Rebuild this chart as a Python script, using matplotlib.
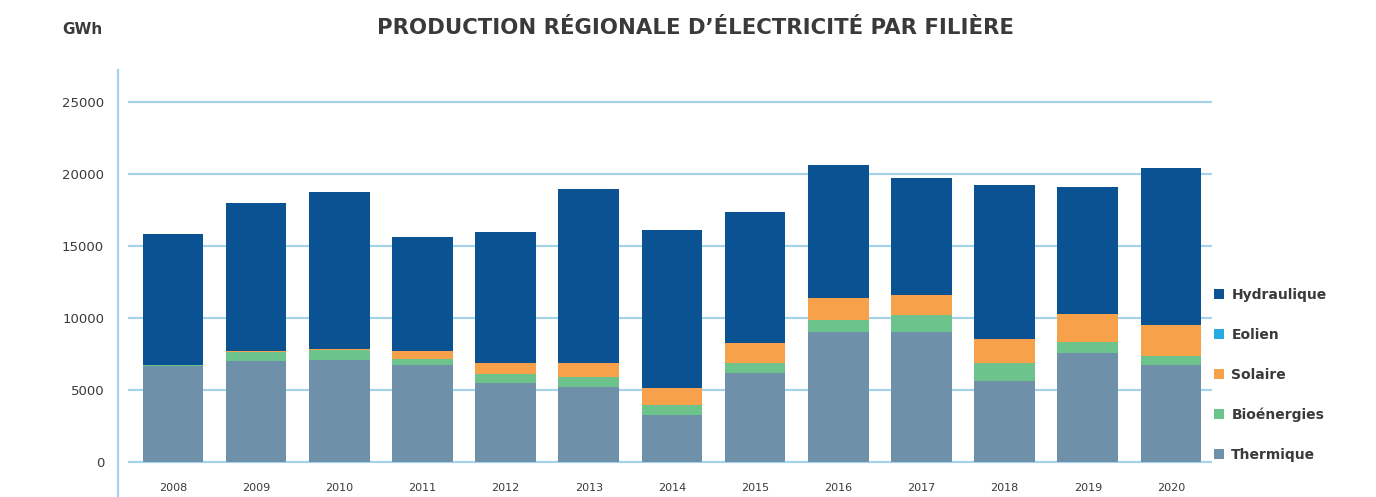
#!/usr/bin/env python3
"""Production régionale d'électricité par filière, 2008-2020 (GWh), stacked bars."""

import matplotlib
matplotlib.use("Agg")
import matplotlib.pyplot as plt
import numpy as np

plt.rcParams.update({
    "font.family": ["DejaVu Sans"],
    "figure.dpi": 100,
})

# ── data (GWh) ──────────────────────────────────────────────────────────────
years = ["2008", "2009", "2010", "2011", "2012", "2013", "2014",
         "2015", "2016", "2017", "2018", "2019", "2020"]
thermique   = [6650, 7000, 7080, 6740, 5460, 5190, 3260, 6200, 9050, 9050, 5650, 7550, 6740]
bioenergies = [100, 660, 700, 390, 650, 740, 700, 700, 810, 1160, 1200, 810, 620]
solaire     = [0, 50, 44, 600, 790, 970, 1160, 1390, 1500, 1390, 1670, 1920, 2150]
eolien      = [0, 0, 0, 5, 5, 5, 5, 5, 10, 10, 10, 10, 10]
hydraulique = [9060, 10255, 10950, 7870, 9100, 12040, 11000, 9100, 9260, 8080, 10720, 8840, 10930]

y_ticks = [0, 5000, 10000, 15000, 20000, 25000]

# ── colours ─────────────────────────────────────────────────────────────────
COLOR_THERM = "#6e90a8"
COLOR_BIO   = "#6cc48c"
COLOR_SOL   = "#f7a24b"
COLOR_EOL   = "#29abe2"
COLOR_HYD   = "#0a5291"
COLOR_GRID  = "#a7d3ea"
COLOR_TEXT  = "#3a3a3a"

fig = plt.figure(figsize=(13.76, 4.97), dpi=100)
ax = fig.add_axes([118 / 1376, 0.0, (1215 - 118) / 1376, (497 - 70) / 497])

x = np.arange(len(years))
width = 0.73

series = [
    ("Thermique", thermique, COLOR_THERM),
    ("Bioénergies", bioenergies, COLOR_BIO),
    ("Solaire", solaire, COLOR_SOL),
    ("Eolien", eolien, COLOR_EOL),
    ("Hydraulique", hydraulique, COLOR_HYD),
]

bottom = np.zeros(len(years))
handles = []
for label, vals, color in series:
    vals = np.asarray(vals, dtype=float)
    h = ax.bar(x, vals, width, bottom=bottom, color=color, label=label,
               zorder=3, linewidth=0)
    handles.append(h)
    bottom += vals

# grid lines (slightly inset from the left axis line)
ax.hlines(y_ticks, -0.541, 12.49, color=COLOR_GRID, linewidth=1.6, zorder=1)

ax.set_xlim(-0.661, 12.53)
ax.set_ylim(-2430, 27222)

for side in ["top", "right"]:
    ax.spines[side].set_visible(False)
ax.spines["left"].set_color(COLOR_GRID)
ax.spines["left"].set_linewidth(1.6)
ax.spines["bottom"].set_position(("data", 0))
ax.spines["bottom"].set_visible(False)

ax.set_yticks(y_ticks)
ax.set_yticklabels([str(v) for v in y_ticks])
ax.set_xticks(x)
ax.set_xticklabels(years)
ax.tick_params(axis="y", length=0, pad=10, labelsize=9.5, labelcolor=COLOR_TEXT)
ax.tick_params(axis="x", length=0, pad=15, labelsize=8, labelcolor=COLOR_TEXT)

# legend, top entry first
leg = ax.legend(handles[::-1], [s[0] for s in series][::-1],
                loc="upper left", bbox_to_anchor=(1214 / 1376, (497 - 288) / 497),
                bbox_transform=fig.transFigure, frameon=False,
                handlelength=0.75, handleheight=0.75, handletextpad=0.5,
                labelspacing=1.86, borderpad=0, borderaxespad=0,
                prop={"size": 10, "weight": "bold"})
for t in leg.get_texts():
    t.set_color(COLOR_TEXT)

fig.text(695 / 1376, 1 - 28 / 497,
         "PRODUCTION RÉGIONALE D\u2019ÉLECTRICITÉ PAR FILIÈRE",
         ha="center", va="center", fontsize=15.3, fontweight="bold",
         color=COLOR_TEXT)
fig.text(82 / 1376, 1 - 30 / 497, "GWh", ha="center", va="center",
         fontsize=11, fontweight="bold", color=COLOR_TEXT)

fig.savefig("out.png", dpi=100)
plt.close(fig)
